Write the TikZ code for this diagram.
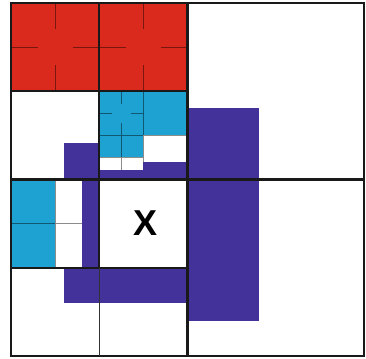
\documentclass[tikz,border=0pt]{standalone}
\usepackage{fontspec}
\setmainfont{Liberation Sans}
\definecolor{cellred}{RGB}{218,42,30}
\definecolor{cellcyan}{RGB}{30,162,210}
\definecolor{halo}{RGB}{66,50,154}

\begin{document}
\begin{tikzpicture}[x=88.25pt, y=-88.25pt,
    finegrid/.style={black, opacity=0.45, line width=0.6pt},
    coarsegrid/.style={black!90, line width=2.4pt}]
    \useasboundingbox (-0.125,-0.034) rectangle (4.023,4.034);
    % Refined cells
    \fill[cellred] (0,0) rectangle (2,1);
    \fill[cellcyan] (1,1) rectangle (2,1.5);
    \fill[cellcyan] (1,1.5) rectangle (1.5,1.75);
    \fill[cellcyan] (0,2) rectangle (0.5,3);
    % Crosses inside the red cells
    \foreach \cx in {0.5,1.5}
        \draw[finegrid] (\cx,0) -- ++(0,0.3) (\cx,1) -- ++(0,-0.3)
                        (\cx-0.5,0.5) -- ++(0.3,0) (\cx+0.5,0.5) -- ++(-0.3,0);
    % Cross inside the cyan quarter
    \draw[finegrid] (1.25,1) -- ++(0,0.14) (1.25,1.5) -- ++(0,-0.14)
                    (1,1.25) -- ++(0.14,0) (1.5,1.25) -- ++(-0.14,0);
    % Subdivision lines
    \draw[finegrid] (1.5,1) -- (1.5,2) (1,1.5) -- (2,1.5)
                    (1.25,1.5) -- (1.25,2) (1,1.75) -- (1.5,1.75);
    \draw[finegrid] (0.5,2) -- (0.5,3) (0,2.5) -- (1,2.5);
    % Halo round X
    \fill[halo] (0.6,1.59) rectangle (1,2);
    \fill[halo] (0.8,2) rectangle (1,3);
    \fill[halo] (1,1.89) rectangle (2,2);
    \fill[halo] (1.5,1.80) rectangle (2,2);
    \fill[halo] (2,1.19) rectangle (2.81,3.6);
    \fill[halo] (0.6,3) rectangle (2,3.4);
    % Coarse grid
    \draw[coarsegrid] (0,0) rectangle (4,4);
    \draw[coarsegrid] (2,0) -- (2,4) (0,2) -- (4,2);
    \draw[coarsegrid] (0,1) -- (2,1) (0,3) -- (2,3) (1,0) -- (1,3);
    \draw[black!80, line width=1pt] (1,3) -- (1,4);
    \node[font=\fontsize{36}{36}\selectfont\bfseries] (xcell) at (1.52,2.49) {X};
\end{tikzpicture}
\end{document}
